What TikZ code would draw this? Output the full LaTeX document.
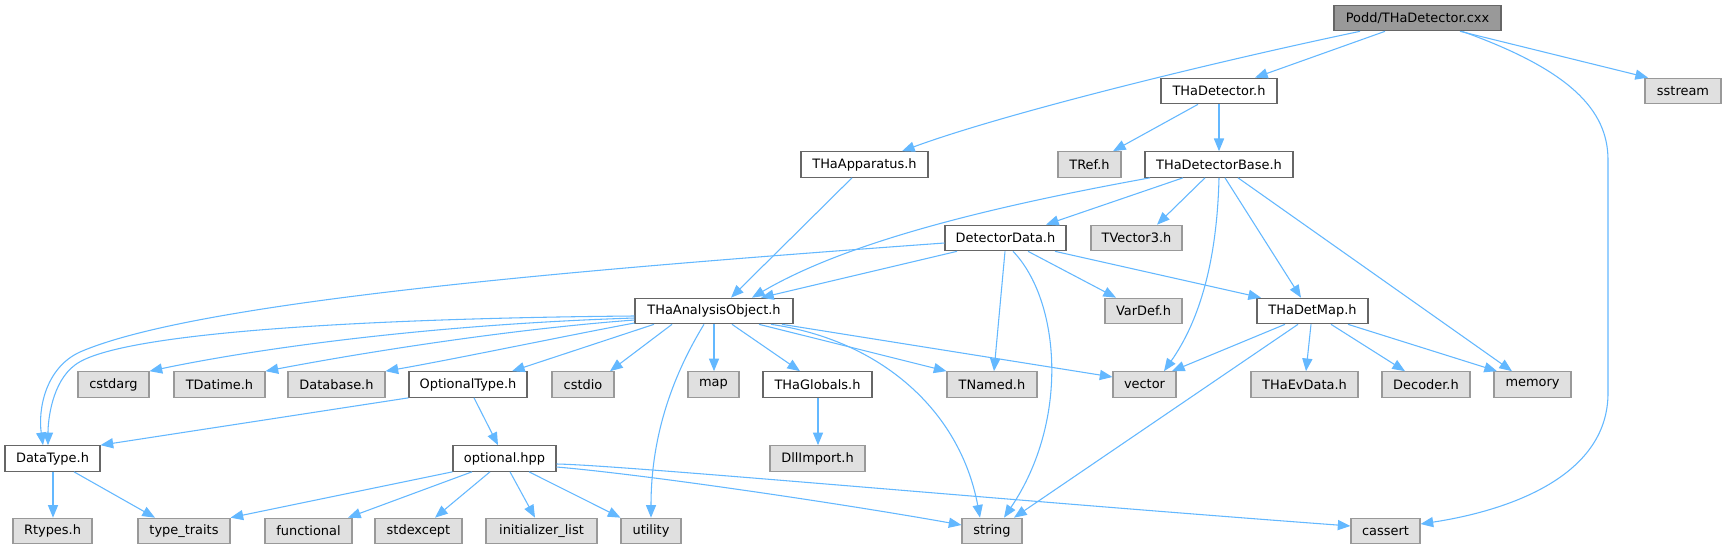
\documentclass[tikz,border=0pt]{standalone}
\usepackage{fontspec}
\setmainfont{DejaVu Sans}
\usetikzlibrary{arrows.meta}
\definecolor{edgecol}{HTML}{63B8FF}
\definecolor{wborder}{HTML}{666666}
\definecolor{gborder}{HTML}{999999}
\definecolor{gfill}{HTML}{E0E0E0}
\definecolor{rootfill}{HTML}{999999}
\newcommand\nd[6]{\node[#1,minimum width={(#4-#3)*0.75pt}] (#2) at ({(#3+#4)/2},#5) {#6};}
\begin{document}
\begin{tikzpicture}[x=0.75pt,y=-0.75pt,
  font=\fontsize{9.7}{11}\selectfont,
  basebox/.style={rectangle,inner sep=0pt,minimum height=19.2pt,line width=0.8pt,text=black},
  wbox/.style={basebox,draw=wborder,fill=white},
  gbox/.style={basebox,draw=gborder,fill=gfill},
  rootbox/.style={basebox,draw=wborder,fill=rootfill},
  dep/.style={draw=edgecol,line width=0.8pt,-{Triangle[length=9.5pt,width=7.6pt]}}]
\useasboundingbox[fill=white] (0,0) rectangle (1726,549);
% row 1
\nd{rootbox}{podd}{1334}{1501}{18}{Podd/THaDetector.cxx}
% row 2
\nd{wbox}{thadet}{1161}{1277}{91}{THaDetector.h}
\nd{gbox}{sstream}{1645}{1721}{91}{sstream}
% row 3
\nd{wbox}{thaapp}{801}{928}{164.5}{THaApparatus.h}
\nd{gbox}{tref}{1058}{1121}{164.5}{TRef.h}
\nd{wbox}{thadetbase}{1145}{1293}{164.5}{THaDetectorBase.h}
% row 4
\nd{wbox}{detdata}{945}{1066}{238}{DetectorData.h}
\nd{gbox}{tvector}{1091}{1182}{238}{TVector3.h}
% row 5
\nd{wbox}{tao}{635}{793}{311}{THaAnalysisObject.h}
\nd{gbox}{vardef}{1105}{1182}{311}{VarDef.h}
\nd{wbox}{detmap}{1257}{1368}{311}{THaDetMap.h}
% row 6
\nd{gbox}{cstdarg}{78}{149}{384.5}{cstdarg}
\nd{gbox}{tdatime}{174}{265}{384.5}{TDatime.h}
\nd{gbox}{database}{288}{385}{384.5}{Database.h}
\nd{wbox}{opttype}{409}{527}{384.5}{OptionalType.h}
\nd{gbox}{cstdio}{552}{614}{384.5}{cstdio}
\nd{gbox}{map}{688}{739}{384.5}{map}
\nd{wbox}{globals}{763}{872}{384.5}{THaGlobals.h}
\nd{gbox}{tnamed}{947}{1037}{384.5}{TNamed.h}
\nd{gbox}{vector}{1113}{1176}{384.5}{vector}
\nd{gbox}{evdata}{1251}{1358}{384.5}{THaEvData.h}
\nd{gbox}{decoder}{1382}{1470}{384.5}{Decoder.h}
\nd{gbox}{memory}{1494}{1571}{384.5}{memory}
% row 7
\nd{wbox}{datatype}{5}{100}{458.5}{DataType.h}
\nd{wbox}{optional}{453}{556}{458.5}{optional.hpp}
\nd{gbox}{dllimport}{770}{865}{458.5}{DllImport.h}
% row 8
\nd{gbox}{rtypes}{13}{92}{531}{Rtypes.h}
\nd{gbox}{typetraits}{138}{230}{531}{type\_traits}
\nd{gbox}{functional}{265}{352}{531}{functional}
\nd{gbox}{stdexcept}{375}{462}{531}{stdexcept}
\nd{gbox}{initlist}{486}{597}{531}{initializer\_list}
\nd{gbox}{utility}{621}{681}{531}{utility}
\nd{gbox}{string}{962}{1022}{531}{string}
\nd{gbox}{cassert}{1351}{1420}{531}{cassert}
% edges from root
\draw[dep] (podd.south -| 1360,0) .. controls (1200,65) and (1000,115) .. (thaapp.north -| 902,0);
\draw[dep] (podd.south -| 1385,0) -- (thadet.north -| 1255,0);
\draw[dep] (podd.south -| 1460,0) -- (sstream.north -| 1648,0);
\draw[dep] (podd.south -| 1462,0) .. controls (1570,70) and (1608,110) .. (1608,160) -- (1608,393) .. controls (1608,480) and (1500,512) .. (cassert.east |- 0,524);
% THaDetector.h
\draw[dep] (thadet.south -| 1198,0) -- (tref.north -| 1113,0);
\draw[dep] (thadet.south -| 1219,0) -- (thadetbase.north -| 1219,0);
% THaApparatus.h
\draw[dep] (thaapp.south -| 852,0) -- (tao.north -| 731,0);
% THaDetectorBase.h
\draw[dep] (thadetbase.south -| 1150,0) .. controls (1000,205) and (850,240) .. (tao.north -| 752,0);
\draw[dep] (thadetbase.south -| 1183,0) -- (detdata.north -| 1046,0);
\draw[dep] (thadetbase.south -| 1205,0) -- (tvector.north -| 1157,0);
\draw[dep] (thadetbase.south -| 1219,0) .. controls (1217,260) and (1200,320) .. (vector.north -| 1164,0);
\draw[dep] (thadetbase.south -| 1225,0) -- (detmap.north -| 1301,0);
\draw[dep] (thadetbase.south -| 1238,0) -- (memory.north -| 1512,0);
% DetectorData.h
\draw[dep] (detdata.west |- 0,243) .. controls (600,268) and (200,300) .. (80,352) .. controls (45,368) and (38,410) .. (datatype.north -| 43,0);
\draw[dep] (detdata.south -| 957,0) -- (tao.north -| 761,0);
\draw[dep] (detdata.south -| 1005,0) -- (tnamed.north -| 994,0);
\draw[dep] (detdata.south -| 1013,0) .. controls (1060,300) and (1070,420) .. (string.north -| 1004,0);
\draw[dep] (detdata.south -| 1028,0) -- (vardef.north -| 1116,0);
\draw[dep] (detdata.south -| 1055,0) -- (detmap.north -| 1261,0);
% THaAnalysisObject.h
\draw[dep] (tao.west |- 0,316) .. controls (400,318) and (120,330) .. (75,365) .. controls (52,382) and (48,420) .. (datatype.north -| 48,0);
\draw[dep] (tao.west |- 0,318) .. controls (420,325) and (250,350) .. (cstdarg.north east);
\draw[dep] (tao.west |- 0,320) .. controls (500,330) and (350,355) .. (tdatime.north east);
\draw[dep] (tao.west |- 0,323) .. controls (570,335) and (450,360) .. (database.north east);
\draw[dep] (tao.south -| 654,0) -- (opttype.north -| 512,0);
\draw[dep] (tao.south -| 672,0) -- (cstdio.north -| 610,0);
\draw[dep] (tao.south -| 704,0) .. controls (670,380) and (651,440) .. (utility.north -| 651,0);
\draw[dep] (tao.south -| 714,0) -- (map.north -| 714,0);
\draw[dep] (tao.south -| 732,0) -- (globals.north -| 800,0);
\draw[dep] (tao.south -| 759,0) -- (tnamed.north west);
\draw[dep] (tao.south -| 771,0) .. controls (880,340) and (960,410) .. (string.north -| 980,0);
\draw[dep] (tao.south -| 782,0) -- (vector.west |- 0,377);
% THaDetMap.h
\draw[dep] (detmap.south -| 1285,0) -- (vector.north -| 1172,0);
\draw[dep] (detmap.south -| 1298,0) -- (string.north -| 1014,0);
\draw[dep] (detmap.south -| 1311,0) -- (evdata.north -| 1306,0);
\draw[dep] (detmap.south -| 1331,0) -- (decoder.north -| 1405,0);
\draw[dep] (detmap.south -| 1348,0) -- (memory.north -| 1497,0);
% OptionalType.h
\draw[dep] (opttype.south west) -- (datatype.north east);
\draw[dep] (opttype.south -| 474,0) -- (optional.north -| 498,0);
% THaGlobals.h
\draw[dep] (globals.south -| 818,0) -- (dllimport.north -| 818,0);
% DataType.h
\draw[dep] (datatype.south -| 53,0) -- (rtypes.north -| 53,0);
\draw[dep] (datatype.south -| 74,0) -- (typetraits.north -| 155,0);
% optional.hpp
\draw[dep] (optional.south west) -- (typetraits.north east);
\draw[dep] (optional.south -| 472,0) -- (functional.north -| 348,0);
\draw[dep] (optional.south -| 490,0) -- (stdexcept.north -| 435,0);
\draw[dep] (optional.south -| 510,0) -- (initlist.north -| 535,0);
\draw[dep] (optional.south -| 529,0) -- (utility.north west);
\draw[dep] (optional.east |- 0,467) .. controls (650,475) and (850,505) .. (string.west |- 0,525);
\draw[dep] (optional.east |- 0,464) .. controls (620,465) and (1000,500) .. (cassert.west |- 0,526);
\end{tikzpicture}
\end{document}
